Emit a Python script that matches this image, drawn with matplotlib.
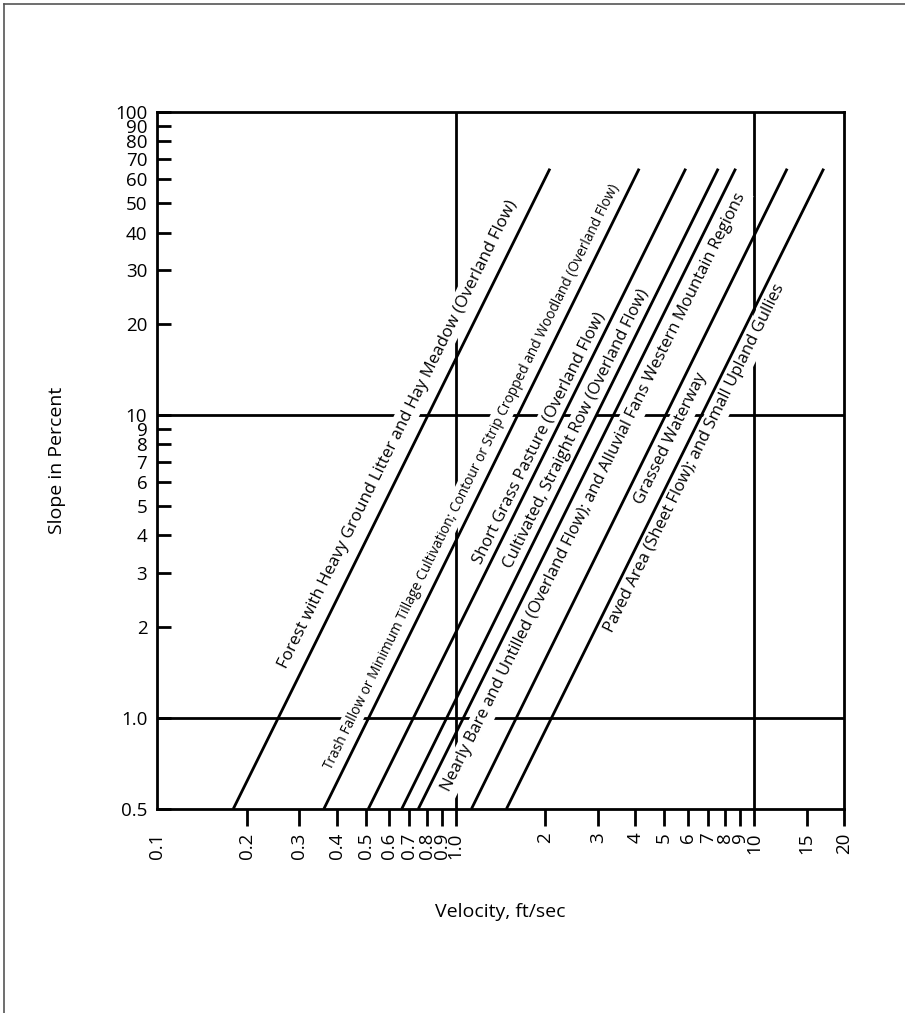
import math
import matplotlib
matplotlib.use("Agg")
import matplotlib.pyplot as plt
import numpy as np
from matplotlib.lines import Line2D

plt.rcParams['font.family'] = ['Open Sans', 'DejaVu Sans']

# --- data ---
land_covers = [
    "Forest with Heavy Ground Litter and Hay Meadow (Overland Flow)",
    "Trash Fallow or Minimum Tillage Cultivation; Contour or Strip Cropped and Woodland (Overland Flow)",
    "Short Grass Pasture (Overland Flow)",
    "Cultivated, Straight Row (Overland Flow)",
    "Nearly Bare and Untilled (Overland Flow); and Alluvial Fans Western Mountain Regions",
    "Grassed Waterway",
    "Paved Area (Sheet Flow); and Small Upland Gullies",
]
# velocity (ft/sec) where each line meets slope 0.5 % and slope 65 %
vel_at_low = [0.18, 0.362, 0.51, 0.66, 0.75, 1.13, 1.48]
vel_at_high = [2.07, 4.12, 5.90, 7.58, 8.67, 12.9, 17.1]
slope_ends = [0.5, 65]

x_ticks = [0.1, 0.2, 0.3, 0.4, 0.5, 0.6, 0.7, 0.8, 0.9, 1.0,
           2, 3, 4, 5, 6, 7, 8, 9, 10, 15, 20]
x_tick_labels = ['0.1', '0.2', '0.3', '0.4', '0.5', '0.6', '0.7', '0.8', '0.9', '1.0',
                 '2', '3', '4', '5', '6', '7', '8', '9', '10', '15', '20']
y_ticks = [0.5, 1, 2, 3, 4, 5, 6, 7, 8, 9, 10,
           20, 30, 40, 50, 60, 70, 80, 90, 100]
y_tick_labels = ['0.5', '1.0', '2', '3', '4', '5', '6', '7', '8', '9', '10',
                 '20', '30', '40', '50', '60', '70', '80', '90', '100']
grid_values = [1, 10]

# --- figure ---
W, H = 905, 1013
fig = plt.figure(figsize=(W / 100, H / 100), dpi=100)
ax = fig.add_axes([157 / W, 1 - 809 / H, (844 - 157) / W, (809 - 112) / H])
ax.set_xscale('log')
ax.set_yscale('log')
ax.set_xlim(0.1, 20)
ax.set_ylim(0.5, 100)

for g in grid_values:
    ax.axhline(g, color='black', lw=2, zorder=1)
    ax.axvline(g, color='black', lw=2, zorder=1)

for lo, hi in zip(vel_at_low, vel_at_high):
    ax.plot([lo, hi], slope_ends, color='black', lw=2, zorder=3,
            solid_capstyle='butt')

# label placement: slope at the label centre, sideways shift in pixels, font size
label_layout = [
    (8.65, -21, 12.2),
    (6.26, -16, 9.9),
    (8.39, -13, 12),
    (8.97, -13, 12),
    (5.54, 19, 12),
    (8.32, 17, 12),
    (7.19, 15, 12),
]

ls0, ls1 = np.log10(slope_ends)
for name, lo, hi, (s, dx, fs) in zip(land_covers, vel_at_low, vel_at_high, label_layout):
    t = (np.log10(s) - ls0) / (ls1 - ls0)
    v = 10 ** (np.log10(lo) + t * (np.log10(hi) - np.log10(lo)))
    p0 = ax.transData.transform((lo, slope_ends[0]))
    p1 = ax.transData.transform((hi, slope_ends[1]))
    ang = math.degrees(math.atan2(p1[1] - p0[1], p1[0] - p0[0]))
    ax.annotate(name, xy=(v, s), xytext=(dx, 0), textcoords='offset pixels',
                rotation=ang, rotation_mode='anchor', ha='center', va='center',
                fontsize=fs, zorder=2,
                bbox=dict(boxstyle='square,pad=0.2', fc='white', ec='none'))

# ticks
ax.set_xticks(x_ticks, x_tick_labels, rotation=90)
ax.set_yticks(y_ticks, y_tick_labels)
ax.minorticks_off()
ax.tick_params(axis='x', direction='out', length=12, width=2, pad=5, labelsize=13.5)
ax.tick_params(axis='y', direction='in', length=10, width=2, pad=7, labelsize=13.5)
ax.xaxis.get_major_ticks()[0].tick1line.set_visible(False)

for sp in ax.spines.values():
    sp.set_linewidth(2)

ax.set_xlabel('Velocity, ft/sec', fontsize=14, va='center')
ax.xaxis.set_label_coords(0.5, -0.1478)
ax.set_ylabel('Slope in Percent', fontsize=14, va='center')
ax.yaxis.set_label_coords(-0.1456, 0.5)

# thin page frame (left and top edges)
fig.add_artist(Line2D([3.5 / W, 3.5 / W], [0, 1 - 4.5 / H], transform=fig.transFigure,
                      color='#555555', lw=1.2))
fig.add_artist(Line2D([3.5 / W, 1], [1 - 4.5 / H, 1 - 4.5 / H], transform=fig.transFigure,
                      color='#555555', lw=1.2))

fig.savefig('out.png', dpi=100)
